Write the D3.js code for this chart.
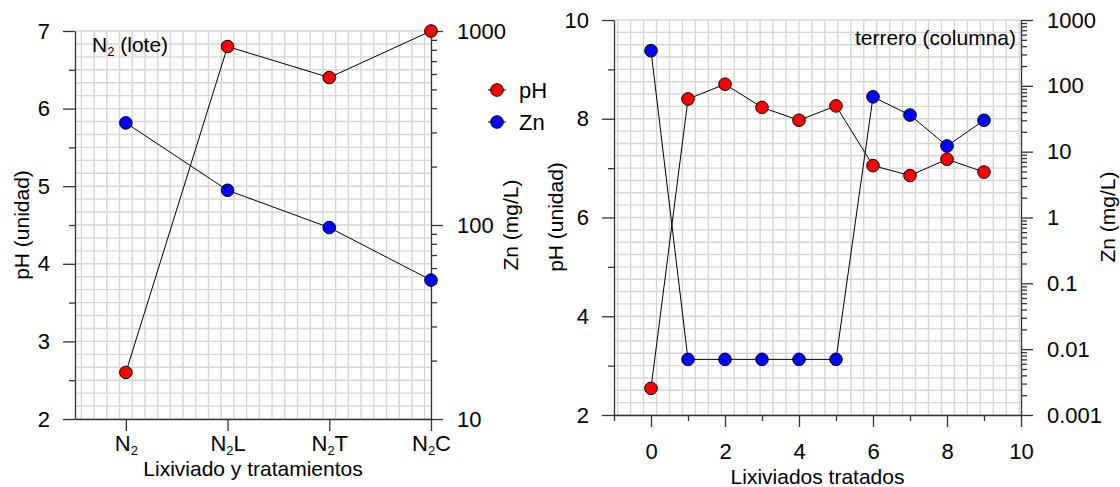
<!DOCTYPE html>
<html>
<head>
<meta charset="utf-8">
<script src="https://cdn.jsdelivr.net/npm/d3@7"></script>
<style>
    body { margin: 0; background: #fff; }
    svg text { font-family: "Liberation Sans", Arial, sans-serif; fill: #000; }
</style>
</head>
<body>
<svg id="chart" width="1120" height="487"></svg>
<script>
// batch test: leachate and its treatments
const loteCategories = ["N2", "N2L", "N2T", "N2C"];
const lotePH = [2.6, 6.8, 6.4, 7.0];
const loteZn = [336, 151, 97, 52];
const lotePHTicks = [2, 3, 4, 5, 6, 7];
const loteZnTicks = [10, 100, 1000];

// column test: treated leachates
const columnaLix = [0, 1, 2, 3, 4, 5, 6, 7, 8, 9];
const columnaPH = [2.54, 8.4, 8.7, 8.23, 7.97, 8.26, 7.05, 6.85, 7.18, 6.92];
const columnaZn = [342, 0.007, 0.007, 0.007, 0.007, 0.007, 68, 36, 12.2, 30];
const columnaXTicks = [0, 2, 4, 6, 8, 10];
const columnaPHTicks = [2, 4, 6, 8, 10];
const columnaZnTicks = [0.001, 0.01, 0.1, 1, 10, 100, 1000];

const series = [
    {key: "pH", color: "#ff0000"},
    {key: "Zn", color: "#0000ff"}
];

const svg = d3.select("#chart");

function logMinors(ticks) {
    let out = [];
    ticks.slice(0, -1).forEach(t => {
        for (let k = 2; k <= 9; k++) out.push(t * k);
    });
    return out;
}

function styleAxis(g, size) {
    g.attr("font-family", null).attr("font-size", size).attr("color", "#333");
    g.selectAll("path, line").attr("stroke-width", 1.3);
}

function drawPanel(cfg) {
    let g = svg.append("g");

    let x = d3.scaleLinear().domain(cfg.xDomain).range([cfg.left, cfg.right]);
    let y = d3.scaleLinear().domain(cfg.phDomain).range([cfg.bottom, cfg.top]);
    let yZn = d3.scaleLog().domain(cfg.znDomain).range([cfg.bottom, cfg.top]);

    // graph paper background
    let grid = g.append("g")
        .attr("stroke", "#d6d6d6")
        .attr("stroke-width", 1.4);
    grid.selectAll(".gx").data(cfg.gridX).join("line")
        .attr("x1", d => x(d)).attr("x2", d => x(d))
        .attr("y1", cfg.top).attr("y2", cfg.bottom);
    grid.selectAll(".gy").data(cfg.gridY).join("line")
        .attr("x1", cfg.left).attr("x2", cfg.right)
        .attr("y1", d => y(d)).attr("y2", d => y(d));

    // left pH axis
    g.append("g")
        .attr("transform", `translate(${cfg.left},0)`)
        .call(d3.axisLeft(y).tickValues(cfg.phTicks).tickSize(12).tickSizeOuter(0)
            .tickPadding(13).tickFormat(d3.format("d")))
        .call(a => styleAxis(a, 22));
    g.append("g")
        .attr("transform", `translate(${cfg.left},0)`)
        .call(d3.axisLeft(y).tickValues(cfg.phMinor).tickSize(6).tickSizeOuter(0).tickFormat(""))
        .call(a => styleAxis(a, 22))
        .select(".domain").remove();

    // right Zn axis (log)
    g.append("g")
        .attr("transform", `translate(${cfg.right},0)`)
        .call(d3.axisRight(yZn).tickValues(cfg.znTicks).tickSize(12).tickSizeOuter(0)
            .tickPadding(14).tickFormat(d3.format("~g")))
        .call(a => styleAxis(a, 22));
    g.append("g")
        .attr("transform", `translate(${cfg.right},0)`)
        .call(d3.axisRight(yZn).tickValues(logMinors(cfg.znTicks)).tickSize(6).tickSizeOuter(0).tickFormat(""))
        .call(a => styleAxis(a, 22))
        .select(".domain").remove();

    // bottom axis
    let bottom = g.append("g")
        .attr("transform", `translate(0,${cfg.bottom})`)
        .call(d3.axisBottom(x).tickValues(cfg.xTicks).tickSize(12).tickSizeOuter(0)
            .tickPadding(cfg.xPadding).tickFormat(cfg.xFormat))
        .call(a => styleAxis(a, 22));
    if (cfg.xMinor) {
        g.append("g")
            .attr("transform", `translate(0,${cfg.bottom})`)
            .call(d3.axisBottom(x).tickValues(cfg.xMinor).tickSize(6).tickSizeOuter(0).tickFormat(""))
            .call(a => styleAxis(a, 22))
            .select(".domain").remove();
    }
    if (cfg.subscriptLabels) {
        // N2 -> N with a subscript 2
        bottom.selectAll(".tick text").each(function (d) {
            let label = cfg.subscriptLabels[d];
            let t = d3.select(this).text(null);
            t.append("tspan").text(label[0]);
            t.append("tspan").attr("font-size", 13).attr("dy", 4).text(label[1]);
            t.append("tspan").attr("dy", -4).text(label.slice(2));
        });
    }

    // axis titles
    g.append("text")
        .attr("x", (cfg.left + cfg.right) / 2).attr("y", cfg.xTitleY)
        .attr("text-anchor", "middle").attr("font-size", 21)
        .text(cfg.xTitle);
    g.append("text")
        .attr("transform", `translate(${cfg.phTitleX},${cfg.titleMidY}) rotate(-90)`)
        .attr("text-anchor", "middle").attr("font-size", 21)
        .text("pH (unidad)");
    g.append("text")
        .attr("transform", `translate(${cfg.znTitleX},${cfg.titleMidY}) rotate(-90)`)
        .attr("text-anchor", "middle").attr("font-size", 21)
        .text("Zn (mg/L)");

    // connecting lines, then markers on top
    let linePH = d3.line().x(d => x(d[0])).y(d => y(d[1]));
    let lineZn = d3.line().x(d => x(d[0])).y(d => yZn(d[1]));
    let ptsPH = cfg.xs.map((v, i) => [v, cfg.ph[i]]);
    let ptsZn = cfg.xs.map((v, i) => [v, cfg.zn[i]]);

    g.append("path").datum(ptsPH).attr("d", linePH)
        .attr("fill", "none").attr("stroke", "#000").attr("stroke-width", 1);
    g.append("path").datum(ptsZn).attr("d", lineZn)
        .attr("fill", "none").attr("stroke", "#000").attr("stroke-width", 1);

    g.selectAll(".ph").data(ptsPH).join("circle")
        .attr("cx", d => x(d[0])).attr("cy", d => y(d[1])).attr("r", 6.3)
        .attr("fill", series[0].color).attr("stroke", "#000").attr("stroke-width", 1);
    g.selectAll(".zn").data(ptsZn).join("circle")
        .attr("cx", d => x(d[0])).attr("cy", d => yZn(d[1])).attr("r", 6.3)
        .attr("fill", series[1].color).attr("stroke", "#000").attr("stroke-width", 1);

    return g;
}

// batch panel
let lote = drawPanel({
    left: 75, right: 431, top: 31, bottom: 419,
    xDomain: [-0.5, 3], phDomain: [2, 7], znDomain: [10, 1000],
    gridX: d3.range(-0.4375, 3, 0.125),
    gridY: d3.range(2, 7.001, 1 / 6),
    phTicks: lotePHTicks, phMinor: d3.range(2.5, 7, 1),
    znTicks: loteZnTicks,
    xTicks: loteCategories.map((c, i) => i), xFormat: (d, i) => loteCategories[i],
    xPadding: 4, subscriptLabels: loteCategories,
    xTitle: "Lixiviado y tratamientos", xTitleY: 476,
    phTitleX: 29, znTitleX: 518, titleMidY: 225,
    xs: loteCategories.map((c, i) => i), ph: lotePH, zn: loteZn
});

let lt = lote.append("text").attr("x", 92).attr("y", 52).attr("font-size", 21);
lt.append("tspan").text("N");
lt.append("tspan").attr("font-size", 13).attr("dy", 4).text("2");
lt.append("tspan").attr("dy", -4).text(" (lote)");

// legend
let legend = lote.append("g").attr("transform", "translate(497,90)");
series.forEach((s, i) => {
    let row = legend.append("g").attr("transform", `translate(0,${i * 32})`);
    row.append("line").attr("x1", -9).attr("x2", 9).attr("stroke", "#000").attr("stroke-width", 1);
    row.append("circle").attr("r", 6.3).attr("fill", s.color).attr("stroke", "#000");
    row.append("text").attr("x", 22).attr("y", 8).attr("font-size", 22).text(s.key);
});

// column panel
let columna = drawPanel({
    left: 614, right: 1021, top: 20, bottom: 415,
    xDomain: [-1, 10], phDomain: [2, 10], znDomain: [0.001, 1000],
    gridX: d3.range(-0.9, 10, 0.35),
    gridY: d3.range(2, 10.001, 0.25),
    phTicks: columnaPHTicks, phMinor: d3.range(3, 10, 2),
    znTicks: columnaZnTicks,
    xTicks: columnaXTicks, xFormat: d3.format("d"), xPadding: 16,
    xMinor: d3.range(-1, 10, 2),
    xTitle: "Lixiviados tratados", xTitleY: 484,
    phTitleX: 563, znTitleX: 1115, titleMidY: 217,
    xs: columnaLix, ph: columnaPH, zn: columnaZn
});

columna.append("text").attr("x", 1016).attr("y", 45).attr("text-anchor", "end")
    .attr("font-size", 21).text("terrero (columna)");
</script>
</body>
</html>
